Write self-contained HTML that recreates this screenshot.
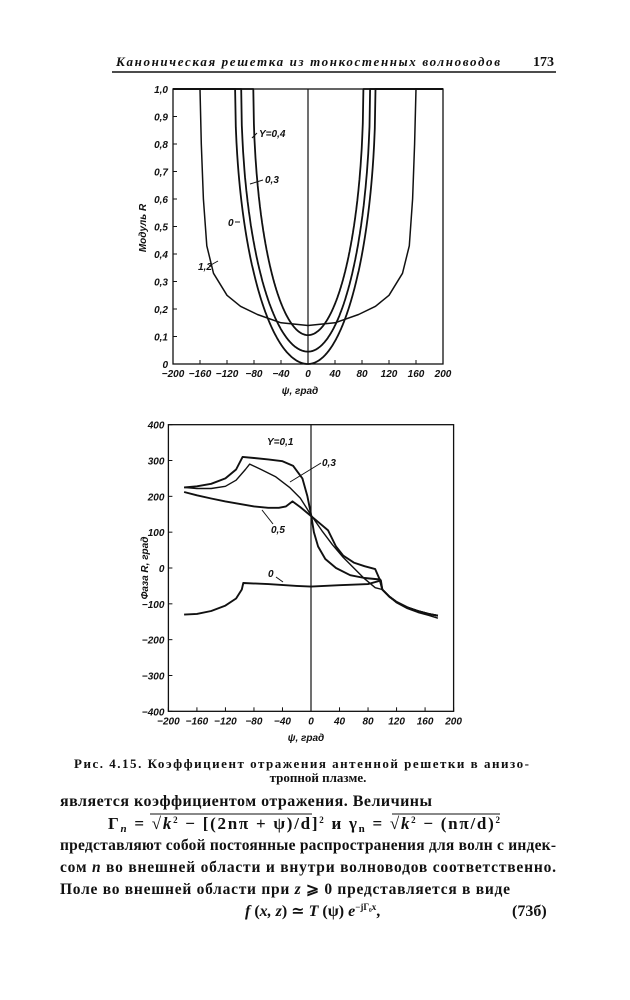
<!DOCTYPE html>
<html><head><meta charset="utf-8"><style>
body{margin:0;background:#fff;}
svg{display:block}
.t{font-family:"Liberation Serif","DejaVu Serif",serif;fill:#111}
.ax{font-family:"Liberation Sans",sans-serif;font-style:italic;font-weight:bold;font-size:10px;fill:#111}
</style></head><body>
<svg id="s" width="630" height="1000" xmlns="http://www.w3.org/2000/svg">
<text class="t" x="116" y="66" font-size="13" font-style="italic" font-weight="bold" textLength="384">Каноническая решетка из тонкостенных волноводов</text>
<text class="t" x="533" y="66" font-size="14" font-weight="bold">173</text>
<line x1="112" y1="72" x2="556" y2="72" stroke="#111" stroke-width="1.5"/>
<g id="g1" fill="none" stroke="#111"></g>
<g id="g2" fill="none" stroke="#111"></g>
<text class="t" x="74" y="768" font-size="13" font-weight="bold" textLength="455">Рис. 4.15. Коэффициент отражения антенной решетки в анизо-</text>
<text class="t" x="318" y="782" font-size="13" font-weight="bold" text-anchor="middle">тропной плазме.</text>
<text class="t" x="60" y="806" font-size="16" font-weight="bold" textLength="372">является коэффициентом отражения. Величины</text>
<text class="t" x="108" y="829" font-size="17" font-weight="bold" textLength="392" lengthAdjust="spacing">Γ<tspan font-size="11" font-style="italic" dy="3">n</tspan><tspan dy="-3"> = √</tspan><tspan font-style="italic">k</tspan><tspan font-size="9" dy="-6">2</tspan><tspan dy="6"> − [(2nπ + ψ)/d]</tspan><tspan font-size="9" dy="-6">2</tspan><tspan dy="6"> и γ</tspan><tspan font-size="11" dy="3">n</tspan><tspan dy="-3"> = √</tspan><tspan font-style="italic">k</tspan><tspan font-size="9" dy="-6">2</tspan><tspan dy="6"> − (nπ/d)</tspan><tspan font-size="9" dy="-6">2</tspan></text>
<line x1="150" y1="814" x2="312" y2="814" stroke="#111" stroke-width="1"/>
<line x1="392" y1="814" x2="500" y2="814" stroke="#111" stroke-width="1"/>
<text class="t" x="60" y="850" font-size="15.5" font-weight="bold" textLength="496">представляют собой постоянные распространения для волн с индек-</text>
<text class="t" x="60" y="872" font-size="15.5" font-weight="bold" textLength="496">сом <tspan font-style="italic">n</tspan> во внешней области и внутри волноводов соответственно.</text>
<text class="t" x="60" y="894" font-size="15.5" font-weight="bold" textLength="450">Поле во внешней области при <tspan font-style="italic">z</tspan> ⩾ 0 представляется в виде</text>
<text class="t" x="245" y="916" font-size="16" font-weight="bold"><tspan font-style="italic">f</tspan> (<tspan font-style="italic">x, z</tspan>) ≃ <tspan font-style="italic">T</tspan> (ψ) <tspan font-style="italic">e</tspan><tspan font-size="9" dy="-6">−jΓ₀x</tspan><tspan dy="6">,</tspan></text>
<text class="t" x="512" y="916" font-size="16" font-weight="bold">(73б)</text>
</svg>
<script>
var NS="http://www.w3.org/2000/svg";
function el(p,n,a,txt){var e=document.createElementNS(NS,n);for(var k in a)e.setAttribute(k,a[k]);if(txt!=null)e.textContent=txt;p.appendChild(e);return e;}
var g1=document.getElementById("g1"),g2=document.getElementById("g2");
function X1(d){return 308+0.675*d} function Y1(r){return 364-275*r}
el(g1,"rect",{x:X1(-200),y:Y1(1),width:X1(200)-X1(-200),height:Y1(0)-Y1(1),"stroke-width":1.3});
el(g1,"line",{x1:X1(0),y1:Y1(1),x2:X1(0),y2:Y1(0),"stroke-width":1.2});
for(var d=-200;d<=200;d+=40){el(g1,"line",{x1:X1(d),y1:Y1(0),x2:X1(d),y2:Y1(0)-4});
 el(g1,"text",{x:X1(d),y:Y1(0)+13,"text-anchor":"middle",class:"ax",stroke:"none"},(d<0?"−"+(-d):d));}
for(var i=0;i<=10;i++){var r=i/10;el(g1,"line",{x1:X1(-200),y1:Y1(r),x2:X1(-200)+4,y2:Y1(r)});
 el(g1,"text",{x:X1(-200)-5,y:Y1(r)+4,"text-anchor":"end",class:"ax",stroke:"none"},i==0?"0":(i==10?"1,0":"0,"+i));}
el(g1,"text",{x:300,y:394,"text-anchor":"middle",class:"ax",stroke:"none","font-size":11},"ψ, град");
el(g1,"text",{x:0,y:0,transform:"translate(146,228) rotate(-90)","text-anchor":"middle",class:"ax",stroke:"none","font-size":11},"Модуль R");
function ucurve(aL,aR,m){var pts=[];pts.push([X1(-200),Y1(1)]);
 for(var k=0;k<=200;k++){var d=-aL+(aL+aR)*k/200;var a=d<0?aL:aR;var t=Math.min(1,Math.abs(d)/a);
 var r=m+(1-m)*(1-Math.sqrt(1-t*t));pts.push([X1(d),Y1(r)]);}
 pts.push([X1(200),Y1(1)]);return pts;}
function poly(g,pts,w){el(g,"polyline",{points:pts.map(function(p){return p[0].toFixed(1)+","+p[1].toFixed(1)}).join(" "),"stroke-width":w,"stroke-linejoin":"round"});}
poly(g1,ucurve(108,100,0),1.8);
poly(g1,ucurve(99,92,0.045),1.8);
poly(g1,ucurve(81,82,0.105),1.8);
var c12=[[-200,1],[-160,1],[-158,0.8],[-155,0.6],[-150,0.43],[-140,0.33],[-120,0.25],[-100,0.21],[-75,0.18],[-40,0.15],[0,0.14]];
var p12=c12.slice();for(var i=c12.length-2;i>=0;i--)p12.push([-c12[i][0],c12[i][1]]);
poly(g1,p12.map(function(p){return [X1(p[0]),Y1(p[1])]}),1.5);
function lab(g,x,y,s,x2,y2,x3,y3){el(g,"text",{x:x,y:y,class:"ax",stroke:"none","font-size":10},s);if(x2!=null)el(g,"line",{x1:x2,y1:y2,x2:x3,y2:y3,"stroke-width":1});}
lab(g1,259,137,"Y=0,4",257,133,252,138);
lab(g1,265,183,"0,3",263,180,250,184);
lab(g1,228,226,"0",235,222,240,222);
lab(g1,198,270,"1,2",209,266,218,261);
function X2(d){return 311+0.713*d} function Y2(p){return 568-0.3583*p}
el(g2,"rect",{x:X2(-200),y:Y2(400),width:X2(200)-X2(-200),height:Y2(-400)-Y2(400),"stroke-width":1.3});
el(g2,"line",{x1:X2(0),y1:Y2(400),x2:X2(0),y2:Y2(-400),"stroke-width":1.2});
for(var d=-200;d<=200;d+=40){el(g2,"line",{x1:X2(d),y1:Y2(-400),x2:X2(d),y2:Y2(-400)-4});
 el(g2,"text",{x:X2(d),y:Y2(-400)+13,"text-anchor":"middle",class:"ax",stroke:"none"},(d<0?"−"+(-d):d));}
for(var p=-400;p<=400;p+=100){el(g2,"line",{x1:X2(-200),y1:Y2(p),x2:X2(-200)+4,y2:Y2(p)});
 el(g2,"text",{x:X2(-200)-4,y:Y2(p)+4,"text-anchor":"end",class:"ax",stroke:"none"},p<0?"−"+(-p):p);}
el(g2,"text",{x:306,y:741,"text-anchor":"middle",class:"ax",stroke:"none","font-size":11},"ψ, град");
el(g2,"text",{x:0,y:0,transform:"translate(148,568) rotate(-90)","text-anchor":"middle",class:"ax",stroke:"none","font-size":11},"Фаза R, град");
var tail=[[100,-60],[110,-80],[120,-95],[135,-110],[150,-120],[165,-128],[178,-133]];
var tail2=[[100,-60],[110,-80],[120,-97],[135,-113],[150,-124],[165,-132],[178,-140]];
var C0=[[-178,-130],[-160,-128],[-140,-120],[-120,-105],[-105,-85],[-97,-60],[-95,-42],[-60,-45],[-20,-50],[0,-52],[40,-48],[80,-45],[98,-35]].concat(tail);
var C1=[[-178,225],[-160,228],[-140,235],[-120,250],[-105,275],[-96,310],[-80,307],[-60,303],[-40,298],[-25,285],[-12,250],[-5,200],[0,150],[4,100],[10,60],[20,25],[35,0],[55,-20],[75,-28],[97,-32]].concat(tail);
var C3=[[-178,225],[-160,222],[-140,222],[-120,228],[-105,245],[-92,275],[-86,290],[-70,275],[-50,255],[-30,225],[-15,195],[0,148],[15,105],[30,65],[45,30],[60,0],[75,-30],[90,-55]].concat(tail2);
var C5=[[-178,212],[-160,203],[-140,194],[-120,186],[-100,179],[-80,172],[-60,168],[-45,168],[-35,172],[-26,186],[-15,170],[0,145],[12,125],[24,105],[35,60],[45,35],[60,15],[75,5],[90,-3],[96,-30]].concat(tail);
[C0,C1,C3,C5].forEach(function(c,i){poly(g2,c.map(function(p){return [X2(p[0]),Y2(p[1])]}),i==2?1.4:1.9);});
lab(g2,267,445,"Y=0,1",null);
lab(g2,322,466,"0,3",321,463,290,482);
lab(g2,271,533,"0,5",273,524,262,510);
lab(g2,268,577,"0",276,577,283,582);
</script>
</body></html>
